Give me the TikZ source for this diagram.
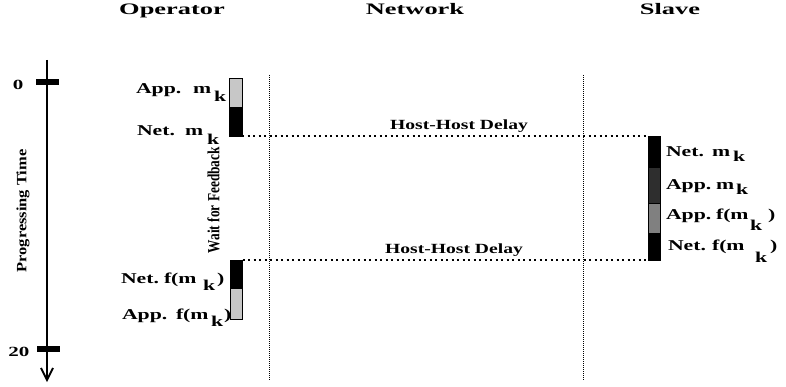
\documentclass[tikz,border=0pt]{standalone}
\usepackage{fontspec}
\setmainfont{Liberation Serif}
\usepackage{graphicx}
\usetikzlibrary{arrows.meta}
\newcommand\sx[2][1.45]{\scalebox{#1}[1]{#2}}
\newcommand\lbfont{\bfseries\fontsize{15}{15}\selectfont}
\tikzset{
  lbl/.style={anchor=base west, inner sep=0pt, outer sep=0pt, font=\lbfont},
  ttl/.style={anchor=base, inner sep=0pt, outer sep=0pt, font=\bfseries\fontsize{16}{16}\selectfont},
  hostlbl/.style={anchor=base, inner sep=0pt, outer sep=0pt, font=\bfseries\fontsize{14}{14}\selectfont},
  numlbl/.style={anchor=base, inner sep=0pt, outer sep=0pt, font=\bfseries\fontsize{14}{14}\selectfont},
  vlbl/.style={rotate=90, inner sep=0pt, outer sep=0pt},
  seg/.style={draw=black, line width=0.9pt, inner sep=0pt, outer sep=0pt, minimum width=12.5pt},
  light/.style={fill=black!22},
  mid/.style={fill=black!50},
  dark/.style={fill=black!82},
  solid black/.style={fill=black},
  tickbar/.style={fill=black, inner sep=0pt, outer sep=0pt, minimum width=23pt, minimum height=6pt},
  hostline/.style={line width=1.6pt, dash pattern=on 2pt off 3.5pt},
  netline/.style={line width=0.8pt, dash pattern=on 1pt off 1pt},
  axis/.style={line width=2.5pt, -{Straight Barb[length=12pt,width=12pt,line width=1.8pt]}}
}
\begin{document}
\begin{tikzpicture}[x=1pt,y=-1pt]
\useasboundingbox (0,0) rectangle (786,387);

% titles
\node[ttl] (tOp) at (172,15) {\sx[1.65]{Operator}};
\node[ttl] (tNet) at (415,15) {\sx[1.65]{Network}};
\node[ttl] (tSl) at (670,15) {\sx[1.65]{Slave}};

% time axis
\coordinate (axtop) at (47,60);
\coordinate (axbot) at (47,382);
\draw[axis] (axtop) -- (axbot);
\node[tickbar] (t0) at (47.5,82.5) {};
\node[tickbar] (t20) at (48.5,349) {};
\node[numlbl] (n0) at (18,90) {\sx[1.5]{0}};
\node[numlbl] (n20) at (19,356) {\sx[1.5]{20}};
\node[vlbl] (ptime) at (23,211) {\resizebox*{123pt}{13pt}{\bfseries Progressing Time}};

% network lines
\coordinate (n1top) at (269.5,75);
\coordinate (n1bot) at (269.5,380);
\coordinate (n2top) at (583,75);
\coordinate (n2bot) at (583,380);
\draw[netline] (n1top) -- (n1bot);
\draw[netline] (n2top) -- (n2bot);

% operator bars
\node[seg, light, minimum height=29pt] (opApp) at (235.75,92.5) {};
\node[seg, solid black, minimum height=29pt] (opNet) at (235.75,121.5) {};
\node[seg, solid black, minimum height=28pt] (opNetf) at (236.25,274) {};
\node[seg, light, minimum height=31pt] (opAppf) at (236.25,303.5) {};

% slave bar
\node[seg, solid black, minimum width=12pt, minimum height=31pt] (slNet) at (654,151.5) {};
\node[seg, dark, minimum width=12pt, minimum height=36pt] (slApp) at (654,185) {};
\node[seg, mid, minimum width=12pt, minimum height=30pt] (slAppf) at (654,218) {};
\node[seg, solid black, minimum width=12pt, minimum height=27pt] (slNetf) at (654,246.5) {};

% host-host lines
\draw[hostline] (opNet.south east) -- (slNet.north west);
\draw[hostline] (opNetf.north east) -- (slNetf.south west);
\node[hostlbl] (h1) at (459,129.5) {\sx[1.4]{Host-Host Delay}};
\node[hostlbl] (h2) at (454,253) {\sx[1.4]{Host-Host Delay}};

% wait for feedback
\node[vlbl] (wff) at (213.5,200) {\resizebox{106pt}{12pt}{\bfseries Wait for Feedback}};

% operator labels
\node[lbl] (lOpApp) at (136,94) {\rlap{\sx{App.}}\hspace*{57pt}\rlap{\sx{m}}\hspace*{21pt}\raisebox{-8pt}{\sx{k}}};
\node[lbl] (lOpNet) at (137,136) {\rlap{\sx{Net.}}\hspace*{48pt}\rlap{\sx{m}}\hspace*{22pt}\raisebox{-9pt}{\sx{k}}};
\node[lbl] (lOpNetf) at (121,283) {\rlap{\sx{Net.}}\hspace*{43pt}\rlap{\sx{f(m}}\hspace*{39pt}\rlap{\raisebox{-7pt}{\sx{k}}}\hspace*{14pt}\sx{)}};
\node[lbl] (lOpAppf) at (122,319) {\rlap{\sx{App.}}\hspace*{54pt}\rlap{\sx{f(m}}\hspace*{35pt}\rlap{\raisebox{-7pt}{\sx{k}}}\hspace*{13pt}\sx{)}};

% slave labels
\node[lbl] (lSlNet) at (666,157) {\rlap{\sx{Net.}}\hspace*{46pt}\rlap{\sx{m}}\hspace*{21pt}\raisebox{-5pt}{\sx{k}}};
\node[lbl] (lSlApp) at (666,190) {\rlap{\sx{App.}}\hspace*{50pt}\rlap{\sx{m}}\hspace*{20pt}\raisebox{-5pt}{\sx{k}}};
\node[lbl] (lSlAppf) at (666,220) {\rlap{\sx{App.}}\hspace*{50pt}\rlap{\sx{f(m}}\hspace*{34pt}\rlap{\raisebox{-10pt}{\sx{k}}}\hspace*{18pt}\sx{)}};
\node[lbl] (lSlNetf) at (668,250) {\rlap{\sx{Net.}}\hspace*{44pt}\rlap{\sx{f(m}}\hspace*{43pt}\rlap{\raisebox{-13pt}{\sx{k}}}\hspace*{15pt}\sx{)}};
\end{tikzpicture}
\end{document}
